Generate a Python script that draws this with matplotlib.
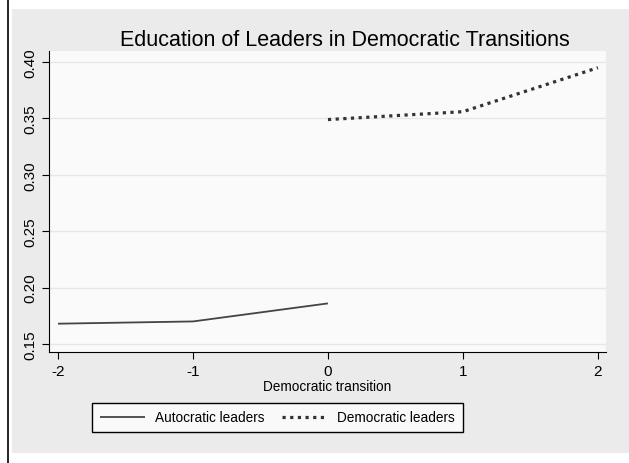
import matplotlib
matplotlib.use("Agg")
import matplotlib.pyplot as plt
from matplotlib.patches import Rectangle
from matplotlib.lines import Line2D

plt.rcParams['font.family'] = ['Liberation Sans', 'DejaVu Sans']

x_auto = [-2, -1, 0]
y_auto = [0.168, 0.170, 0.186]
x_demo = [0, 1, 2]
y_demo = [0.349, 0.356, 0.395]
yticks = [0.15, 0.20, 0.25, 0.30, 0.35, 0.40]
ytick_labels = ["0.15", "0.20", "0.25", "0.30", "0.35", "0.40"]
xticks = [-2, -1, 0, 1, 2]
title = "Education of Leaders in Democratic Transitions"

W, H = 629, 464
fig = plt.figure(figsize=(W/100, H/100), dpi=100)
fig.patch.set_facecolor('white')
fig.patches.append(Rectangle((12/W, 1-454/H), 1, (454-10)/H, transform=fig.transFigure,
                             facecolor='#ebebeb', edgecolor='none', zorder=-2))
fig.lines.append(Line2D([8/W, 8/W], [0, 1], transform=fig.transFigure, color='black', lw=1.2))

ax = fig.add_axes([49/W, 1-353/H, (606-49)/W, (353-52)/H])
ax.set_facecolor('#fafafa')
l1, = ax.plot(x_auto, y_auto, color='#444444', lw=1.3, solid_capstyle='butt')
l2, = ax.plot(x_demo, y_demo, color='#333333', lw=2.3, linestyle=(0, (1.0, 1.4)), dash_capstyle='butt')
ax.set_xlim(-2.067, 2.06)
ax.set_ylim(0.1429, 0.4098)
ax.set_yticks(yticks)
ax.set_yticklabels(ytick_labels, rotation=90, va='center')
ax.set_xticks(xticks)
ax.set_xticklabels([str(v) for v in xticks])
ax.tick_params(labelsize=11, length=5, color='black')
ax.grid(axis='y', color='#e6e6e6', lw=1)
ax.set_axisbelow(True)
for s in ['top', 'right']:
    ax.spines[s].set_visible(False)
ax.spines['left'].set_color('black')
ax.spines['bottom'].set_color('black')
ax.set_xlabel("Democratic transition", fontsize=9.8, labelpad=1)
fig.text(345/W, 1-40/H, title, ha='center', va='center', fontsize=15.5)

leg = fig.legend([l1, l2], ["Autocratic leaders", "Democratic leaders"], loc='center',
                 bbox_to_anchor=(277.5/W, 1-418.5/H), ncol=2, fontsize=9.8, frameon=True,
                 fancybox=False, edgecolor='black', facecolor='#f9f9f9', framealpha=1,
                 handlelength=3.3, columnspacing=1.3, handletextpad=0.75, borderpad=0.55)
leg.get_frame().set_linewidth(1.0)

fig.savefig("out.png", dpi=100)
